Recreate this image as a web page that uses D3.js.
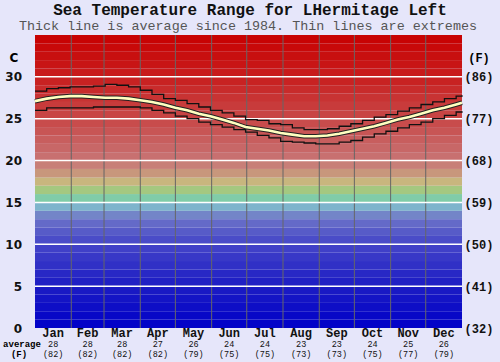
<!DOCTYPE html>
<html>
<meta charset="UTF-8">

<head>
  <script src="https://cdn.jsdelivr.net/npm/d3@7/dist/d3.min.js"></script>
  <style>
    body { margin: 0; background: #e6e6fa; }
    svg { display: block; }
  </style>
</head>

<body>
  <div id="viz">
    <svg style="width:500px;height:362px;"></svg>
  </div>

  <script type="text/javascript">
    const months = ["Jan", "Feb", "Mar", "Apr", "May", "Jun", "Jul", "Aug", "Sep", "Oct", "Nov", "Dec"]
    const monthDays = [31, 28, 31, 30, 31, 30, 31, 31, 30, 31, 30, 31]
    const avgC = [28, 28, 28, 27, 26, 24, 24, 23, 23, 24, 25, 26]
    const avgF = [82, 82, 82, 82, 79, 75, 75, 73, 73, 75, 77, 79]

    const celsiusTicks = [0, 5, 10, 15, 20, 25, 30]
    const fahrenheitTicks = [32, 41, 50, 59, 68, 77, 86]

    // day of year for each reading
    const days = [0, 10, 20, 30, 40, 50, 60, 70, 80, 90, 100, 110, 120, 130, 140, 150, 160, 170, 180,
      190, 200, 210, 220, 230, 240, 250, 260, 270, 280, 290, 300, 310, 320, 330, 340, 350, 360, 365]
    const maxTemp = [28.3, 28.6, 28.7, 28.8, 28.8, 28.9, 29.1, 29.0, 28.8, 28.4, 27.9, 27.4, 27.2, 26.8,
      26.4, 26.0, 25.7, 25.3, 24.9, 24.8, 24.4, 24.3, 23.9, 23.7, 23.7, 23.8, 24.1, 24.4, 24.8, 25.2,
      25.5, 25.9, 26.3, 26.7, 27.0, 27.4, 27.7, 27.8]
    const avgTemp = [27.1, 27.4, 27.6, 27.7, 27.7, 27.6, 27.5, 27.5, 27.4, 27.2, 27.0, 26.7, 26.3, 26.0,
      25.6, 25.3, 24.9, 24.5, 24.0, 23.8, 23.6, 23.3, 23.1, 22.9, 22.9, 23.0, 23.2, 23.5, 23.8, 24.1,
      24.5, 24.9, 25.2, 25.6, 26.0, 26.3, 26.7, 26.9]
    const minTemp = [26.0, 26.3, 26.3, 26.3, 26.3, 26.4, 26.4, 26.4, 26.4, 26.3, 26.0, 25.7, 25.3, 25.0,
      24.6, 24.3, 24.0, 23.7, 23.4, 23.0, 22.7, 22.3, 22.2, 22.1, 22.0, 22.0, 22.2, 22.4, 22.8, 23.2,
      23.5, 23.9, 24.3, 24.6, 25.0, 25.4, 25.8, 25.9]

    const svg = d3.select("svg")
    const x = d3.scaleLinear().domain([0, 365]).range([35, 462])
    const y = d3.scaleLinear().domain([0, 35]).range([328, 35])

    const bandColor = d3.scaleLinear()
      .domain([0, 5, 10, 13, 14, 15, 16, 17, 18, 19, 20, 25, 30, 35])
      .range(["#0000c8", "#1c1cc4", "#4444c8", "#6a72c8", "#7c98c8", "#80d0d0", "#80c880",
        "#c8c880", "#c8a47c", "#c88a7c", "#c87474", "#c84848", "#c81e1e", "#c80000"])

    // colour stripes, one per degree
    svg.append("g")
      .selectAll("rect")
      .data(d3.range(0, 35))
      .enter()
      .append("rect")
      .attr("x", x(0))
      .attr("width", x(365) - x(0))
      .attr("y", d => y(d + 1))
      .attr("height", d => y(d) - y(d + 1))
      .style("fill", d => bandColor(d + 0.5))

    // month separators
    const bounds = Array.from(d3.cumsum(monthDays)).slice(0, 11)
    svg.append("g")
      .selectAll("line")
      .data(bounds)
      .enter()
      .append("line")
      .attr("x1", d => x(d))
      .attr("x2", d => x(d))
      .attr("y1", y(35))
      .attr("y2", y(0))
      .style("stroke", "#666")
      .style("stroke-width", "1px")

    // white grid lines
    svg.append("g")
      .selectAll("line")
      .data(celsiusTicks.filter(d => d > 0))
      .enter()
      .append("line")
      .attr("x1", x(0))
      .attr("x2", x(365))
      .attr("y1", d => y(d))
      .attr("y2", d => y(d))
      .style("stroke", "white")
      .style("stroke-width", "1.5px")

    const pts = s => days.map((d, i) => [d, s[i]])
    const stepLine = d3.line().x(d => x(d[0])).y(d => y(d[1])).curve(d3.curveStepAfter)
    const avgLine = d3.line().x(d => x(d[0])).y(d => y(d[1]))

    svg.append("path").attr("d", stepLine(pts(maxTemp)))
      .style("fill", "none").style("stroke", "#111").style("stroke-width", "1.3px")
    svg.append("path").attr("d", stepLine(pts(minTemp)))
      .style("fill", "none").style("stroke", "#111").style("stroke-width", "1.3px")
    svg.append("path").attr("d", avgLine(pts(avgTemp)))
      .style("fill", "none").style("stroke", "#222").style("stroke-width", "4.6px")
    svg.append("path").attr("d", avgLine(pts(avgTemp)))
      .style("fill", "none").style("stroke", "#ffffc0").style("stroke-width", "2.6px")

    // titles
    svg.append("text")
      .attr("x", 250).attr("y", 15)
      .style("text-anchor", "middle")
      .style("font", "bold 16px 'Liberation Mono'")
      .style("fill", "#111")
      .text("Sea Temperature Range for LHermitage Left")
    svg.append("text")
      .attr("x", 248).attr("y", 30)
      .style("text-anchor", "middle")
      .style("font", "13.4px 'Liberation Mono'")
      .style("fill", "#555")
      .text("Thick line is average since 1984. Thin lines are extremes")

    // left axis (C)
    svg.append("g")
      .selectAll("text")
      .data(celsiusTicks)
      .enter()
      .append("text")
      .attr("x", 22)
      .attr("y", d => y(d) + 4.5)
      .style("text-anchor", "end")
      .style("font", "bold 12px 'DejaVu Sans'")
      .style("fill", "#111")
      .text(d => d)
    svg.append("text").attr("x", 14).attr("y", 62)
      .style("text-anchor", "middle").style("font", "bold 12px 'DejaVu Sans'").text("C")

    // right axis (F)
    svg.append("g")
      .selectAll("text")
      .data(fahrenheitTicks)
      .enter()
      .append("text")
      .attr("x", 479)
      .attr("y", (d, i) => y(celsiusTicks[i]) + 4.5)
      .style("text-anchor", "middle")
      .style("font", "bold 12px 'Liberation Mono'")
      .style("fill", "#111")
      .text(d => `(${d})`)
    svg.append("text").attr("x", 479).attr("y", 62)
      .style("text-anchor", "middle").style("font", "bold 12px 'Liberation Mono'").text("(F)")

    // month labels and averages
    const starts = [0].concat(bounds)
    const mg = svg.append("g")
      .selectAll("g")
      .data(months)
      .enter()
      .append("g")
      .attr("transform", (d, i) => `translate(${x(starts[i] + monthDays[i] / 2)},0)`)
    mg.append("text").attr("y", 336.5)
      .style("text-anchor", "middle").style("font", "bold 12px 'Liberation Mono'").style("fill", "#111")
      .text(d => d)
    mg.append("text").attr("y", 347)
      .style("text-anchor", "middle").style("font", "8.5px 'Liberation Mono'").style("fill", "#111")
      .text((d, i) => avgC[i])
    mg.append("text").attr("y", 357)
      .style("text-anchor", "middle").style("font", "8.5px 'Liberation Mono'").style("fill", "#111")
      .text((d, i) => `(${avgF[i]})`)

    svg.append("text").attr("x", 22).attr("y", 347)
      .style("text-anchor", "middle").style("font", "bold 9px 'Liberation Mono'").text("average")
    svg.append("text").attr("x", 19).attr("y", 357)
      .style("text-anchor", "middle").style("font", "bold 9px 'Liberation Mono'").text("(F)")
  </script>
</body>

</html>
